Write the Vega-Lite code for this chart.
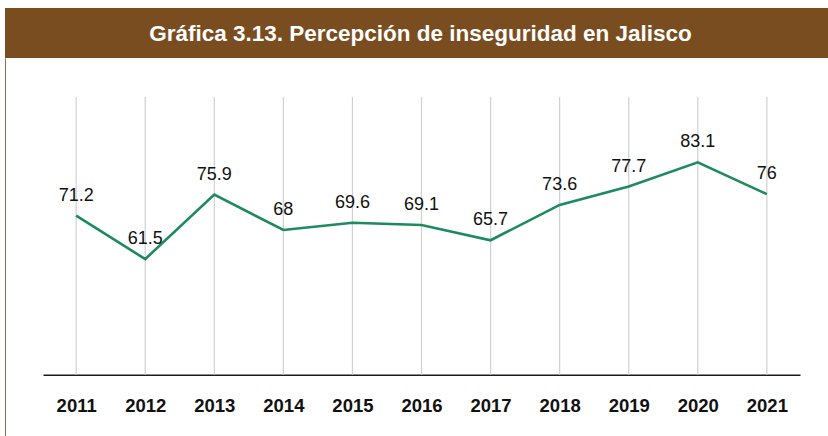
{
  "$schema": "https://vega.github.io/schema/vega-lite/v6.json",
  "padding": {"left": 5, "top": 8, "right": 0, "bottom": 0},
  "background": "white",
  "spacing": 0,
  "config": {
    "view": {"stroke": null},
    "font": "Liberation Sans, Arial, sans-serif",
    "concat": {"spacing": 0}
  },
  "vconcat": [
    {
      "width": 823,
      "height": 50,
      "view": {"fill": "#7a4d20", "stroke": null},
      "data": {"values": [{"t": "Gráfica 3.13. Percepción de inseguridad en Jalisco"}]},
      "mark": {"type": "text", "color": "white", "fontSize": 22.5, "fontWeight": "bold", "font": "Liberation Sans, Arial, sans-serif", "baseline": "middle", "align": "center", "dx": 4, "dy": 1},
      "encoding": {"text": {"field": "t", "type": "nominal"}}
    },
    {
      "width": 823,
      "height": 378,
      "view": {"stroke": null},
      "data": {"values": [
        {"year": "2011", "value": 71.2},
        {"year": "2012", "value": 61.5},
        {"year": "2013", "value": 75.9},
        {"year": "2014", "value": 68},
        {"year": "2015", "value": 69.6},
        {"year": "2016", "value": 69.1},
        {"year": "2017", "value": 65.7},
        {"year": "2018", "value": 73.6},
        {"year": "2019", "value": 77.7},
        {"year": "2020", "value": 83.1},
        {"year": "2021", "value": 76}
      ]},
      "encoding": {
        "x": {
          "field": "year", "type": "ordinal",
          "scale": {"type": "point", "range": [38, 795], "padding": 0.48},
          "axis": {
            "title": null, "grid": false, "ticks": false, "offset": -61.3,
            "domainColor": "#1a1a1a", "domainWidth": 1.5,
            "labelFont": "Liberation Sans, Arial, sans-serif",
            "labelFontSize": 18.5, "labelFontWeight": "bold", "labelColor": "#111111",
            "labelPadding": 22, "labelAngle": 0
          }
        }
      },
      "layer": [
        {
          "mark": {"type": "rule", "color": "#d0d0d0", "strokeWidth": 1.2},
          "encoding": {
            "y": {"datum": 35.7, "type": "quantitative", "scale": {"domain": [22.0, 106.4], "nice": false, "zero": false},
              "axis": {"title": null, "labels": false, "ticks": false, "grid": false, "domain": true, "domainColor": "#9a6a44", "domainWidth": 1}},
            "y2": {"datum": 97.7}
          }
        },
        {
          "mark": {"type": "line", "color": "#1d8a5f", "strokeWidth": 2.6},
          "encoding": {
            "y": {"field": "value", "type": "quantitative"}
          }
        },
        {
          "mark": {"type": "text", "fontSize": 18, "color": "#111111", "baseline": "alphabetic", "dy": -15, "font": "Liberation Sans, Arial, sans-serif"},
          "encoding": {
            "y": {"field": "value", "type": "quantitative"},
            "text": {"field": "value", "type": "quantitative"}
          }
        }
      ]
    }
  ]
}
